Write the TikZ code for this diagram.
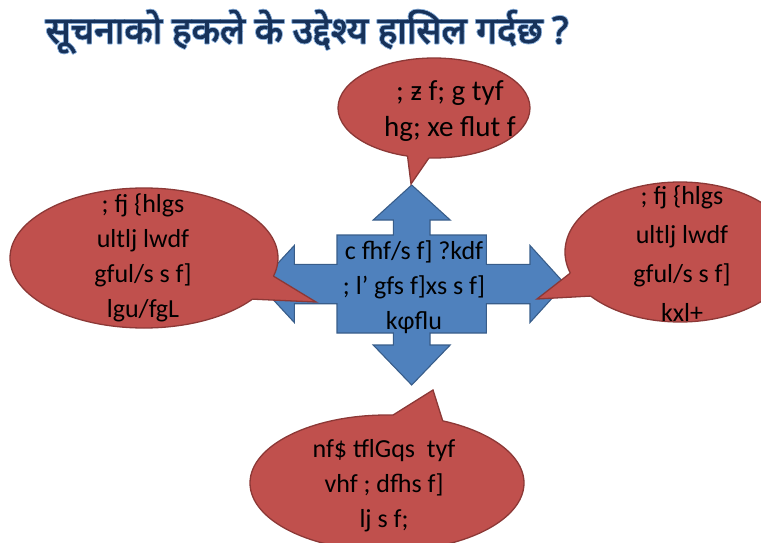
\documentclass[tikz,border=0pt]{standalone}
\usepackage{fontspec}
\usepackage[copies]{contour}
\contourlength{0.7pt}
\contournumber{16}
\setmainfont{Carlito}
\newfontfamily\devfont[Script=Devanagari,FakeBold=2.2]{Noto Sans}
\definecolor{bubblefill}{RGB}{192,80,77}
\definecolor{bubbleline}{RGB}{140,56,54}
\definecolor{arrowfill}{RGB}{79,129,189}
\definecolor{arrowline}{RGB}{56,93,138}
\definecolor{titlecol}{RGB}{23,50,90}
\definecolor{titleglow}{RGB}{150,185,225}
\tikzset{
  bubble/.style={fill=bubblefill, draw=bubbleline, line width=1.3pt, line join=round},
  bubbletail/.style={fill=bubblefill},
  tailedge/.style={draw=bubbleline, line width=1.3pt, line join=miter},
  bigarrow/.style={fill=arrowfill, draw=arrowline, line width=1.1pt, line join=miter},
  btext/.style={font=\fontsize{26}{35}\selectfont, text=black, align=center, inner sep=0pt},
  titletext/.style={font=\devfont\fontsize{37}{40}\selectfont, text=titlecol, inner sep=0pt}
}
\begin{document}
\begin{tikzpicture}[x=1pt,y=-1pt]
\useasboundingbox (0,0) rectangle (761,543);
\clip (0,0) rectangle (761,543);
% title
\node[titletext] (title) at (307,32) {\contour{titleglow}{सूचनाको हकले के उद्देश्य हासिल गर्दछ ?}};
% central four-way arrow
\coordinate (o) at (411.7,284);
\path[bigarrow] (o)
  ++(0,-99) coordinate (uptip) -- ++(38.5,35) -- ++(-20.2,0) -- ++(0,15) -- ++(56.4,0)
  -- ++(0,29.3) -- ++(43.6,0) -- ++(0,-18.8) -- ++(35,38.5) coordinate (righttip) -- ++(-35,38.5)
  -- ++(0,-18.8) -- ++(-43.6,0) -- ++(0,29.3) -- ++(-56.4,0) -- ++(0,12) -- ++(20.2,0)
  -- ++(-38.5,40) coordinate (downtip) -- ++(-38.5,-40) -- ++(20.2,0) -- ++(0,-12) -- ++(-56.4,0)
  -- ++(0,-29.3) -- ++(-42.7,0) -- ++(0,18.8) -- ++(-35.6,-38.5) coordinate (lefttip) -- ++(35.6,-38.5)
  -- ++(0,18.8) -- ++(42.7,0) -- ++(0,-29.3) -- ++(56.4,0) -- ++(0,-15) -- ++(-20.2,0) -- cycle;
% top bubble
\coordinate (tc) at (434,108);
\coordinate (ttip) at (411,184);
\path[bubble] (tc) ellipse [x radius=96, y radius=50];
\fill[bubbletail] ([shift={(tc)}]106:86 and 42) -- ([shift={(tc)}]106:96 and 50) -- (ttip) -- ([shift={(tc)}]93:96 and 50) -- ([shift={(tc)}]93:86 and 42) -- cycle;
\draw[tailedge] ([shift={(tc)}]106:96 and 50) -- (ttip) -- ([shift={(tc)}]93:96 and 50);
% left bubble
\coordinate (lc) at (144,258);
\coordinate (ltip) at (316,302);
\path[bubble] (lc) ellipse [x radius=134, y radius=70];
\fill[bubbletail] ([shift={(lc)}]15:124 and 60) -- ([shift={(lc)}]15:134 and 70) -- (ltip) -- ([shift={(lc)}]36:134 and 70) -- ([shift={(lc)}]36:124 and 60) -- cycle;
\draw[tailedge] ([shift={(lc)}]15:134 and 70) -- (ltip) -- ([shift={(lc)}]36:134 and 70);
% right bubble
\coordinate (rc) at (680,252);
\coordinate (rtip) at (537,299);
\path[bubble] (rc) ellipse [x radius=115, y radius=70];
\fill[bubbletail] ([shift={(rc)}]162.5:105 and 60) -- ([shift={(rc)}]162.5:115 and 70) -- (rtip) -- ([shift={(rc)}]141:115 and 70) -- ([shift={(rc)}]141:105 and 60) -- cycle;
\draw[tailedge] ([shift={(rc)}]162.5:115 and 70) -- (rtip) -- ([shift={(rc)}]141:115 and 70);
% bottom bubble
\coordinate (bc) at (387,483);
\coordinate (btip) at (433,390);
\path[bubble] (bc) ellipse [x radius=137, y radius=68];
\fill[bubbletail] ([shift={(bc)}]-87.5:127 and 58) -- ([shift={(bc)}]-87.5:137 and 68) -- (btip) -- ([shift={(bc)}]-66:137 and 68) -- ([shift={(bc)}]-66:127 and 58) -- cycle;
\draw[tailedge] ([shift={(bc)}]-87.5:137 and 68) -- (btip) -- ([shift={(bc)}]-66:137 and 68);
% texts
\node[btext] (centertext) at (414,287) {c fhf/s f] ?kdf\\; l' gfs f]xs s f]\\kφflu};
\node[btext, font=\fontsize{29}{36}\selectfont] (toptext) at (450,111) {; ƶ f; g tyf\\hg; xe flut f};
\node[btext] (lefttext) at (143,258) {; fj \{hlgs\\ultlj lwdf\\gful/s s f]\\lgu/fgL};
\node[btext, font=\fontsize{26}{39}\selectfont] (righttext) at (682,254) {; fj \{hlgs\\ultlj lwdf\\gful/s s f]\\kxl+};
\node[btext] (bottomtext) at (384,486) {nf\$ tflGqs\ \ tyf\\vhf ; dfhs f]\\lj s f;};
\end{tikzpicture}
\end{document}
